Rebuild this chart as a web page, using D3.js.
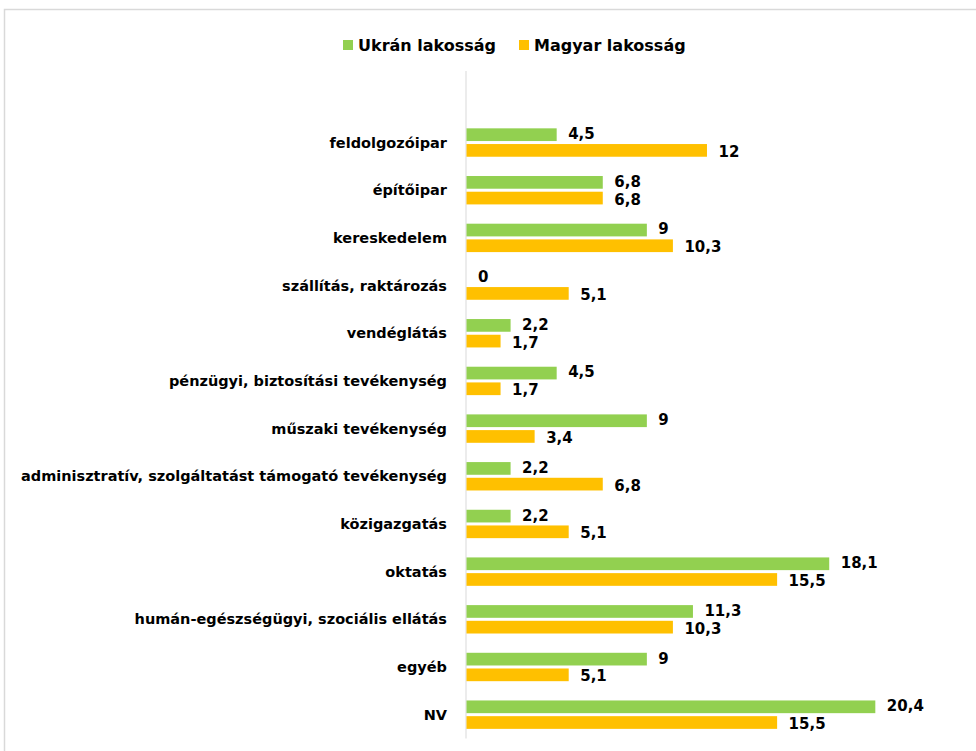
<!DOCTYPE html>
<html><head><meta charset="utf-8">
<script src="https://cdn.jsdelivr.net/npm/d3@7"></script>
<style>body{margin:0;background:#fff}svg{display:block}</style>
</head><body>
<script>
const categories = ["feldolgozóipar","építőipar","kereskedelem","szállítás, raktározás","vendéglátás","pénzügyi, biztosítási tevékenység","műszaki tevékenység","adminisztratív, szolgáltatást támogató tevékenység","közigazgatás","oktatás","humán-egészségügyi, szociális ellátás","egyéb","NV"];
const ukran = [4.5,6.8,9,0,2.2,4.5,9,2.2,2.2,18.1,11.3,9,20.4];
const magyar = [12,6.8,10.3,5.1,1.7,1.7,3.4,6.8,5.1,15.5,10.3,5.1,15.5];
const seriesNames = ["Ukrán lakosság","Magyar lakosság"];
const colors = ["#92D050","#FFC000"];
const fmt = v => String(v).replace(".", ",");

const W = 976, H = 751;
const svg = d3.select("body").append("svg").attr("width", W).attr("height", H);
const font = "'DejaVu Sans', Verdana, sans-serif";

svg.append("rect").attr("x",4.5).attr("y",9.5).attr("width",W+20).attr("height",H+20)
  .attr("fill","#fff").attr("stroke","#d9d9d9").attr("stroke-width",1.5);

const x = d3.scaleLinear().domain([0,25]).range([466,967]);
const y = d3.scaleBand().domain(categories).range([118.7,738.5]);
const barH = 12.7, gap = 3;
const off = (y.bandwidth() - (2*barH + gap))/2;
const labelShift = [-0.6, 1.6];

// axis line
svg.append("line").attr("x1",x(0)).attr("x2",x(0)).attr("y1",71).attr("y2",738.5)
  .attr("stroke","#d9d9d9").attr("stroke-width",1);

const data = [ukran, magyar];
data.forEach((vals, si) => {
  const g = svg.append("g");
  g.selectAll("rect").data(vals).join("rect")
    .attr("x", x(0)+0.5)
    .attr("y", (d,i) => y(categories[i]) + off + si*(barH+gap))
    .attr("width", d => Math.max(0, x(d)-x(0)))
    .attr("height", barH)
    .attr("fill", colors[si]);
  g.selectAll("text").data(vals).join("text")
    .attr("x", d => x(d) + 12)
    .attr("y", (d,i) => y(categories[i]) + off + si*(barH+gap) + barH/2 + labelShift[si])
    .attr("dominant-baseline","central")
    .attr("font-family", font).attr("font-weight","bold").attr("font-size","15px")
    .attr("fill","#000")
    .text(d => fmt(d));
});

// category labels
svg.append("g").selectAll("text").data(categories).join("text")
  .attr("x", 447)
  .attr("y", d => y(d) + y.bandwidth()/2)
  .attr("text-anchor","end").attr("dominant-baseline","central")
  .attr("font-family", font).attr("font-weight","bold").attr("font-size","14.5px")
  .attr("fill","#000")
  .text(d => d);

// legend
const leg = svg.append("g");
const legX = [343, 519];
seriesNames.forEach((n,i) => {
  leg.append("rect").attr("x",legX[i]).attr("y",40).attr("width",10).attr("height",10).attr("fill",colors[i]);
  leg.append("text").attr("x",legX[i]+15).attr("y",45.5).attr("dominant-baseline","central")
    .attr("font-family", font).attr("font-weight","bold").attr("font-size","16px").attr("fill","#000")
    .text(n);
});
</script>
</body></html>
